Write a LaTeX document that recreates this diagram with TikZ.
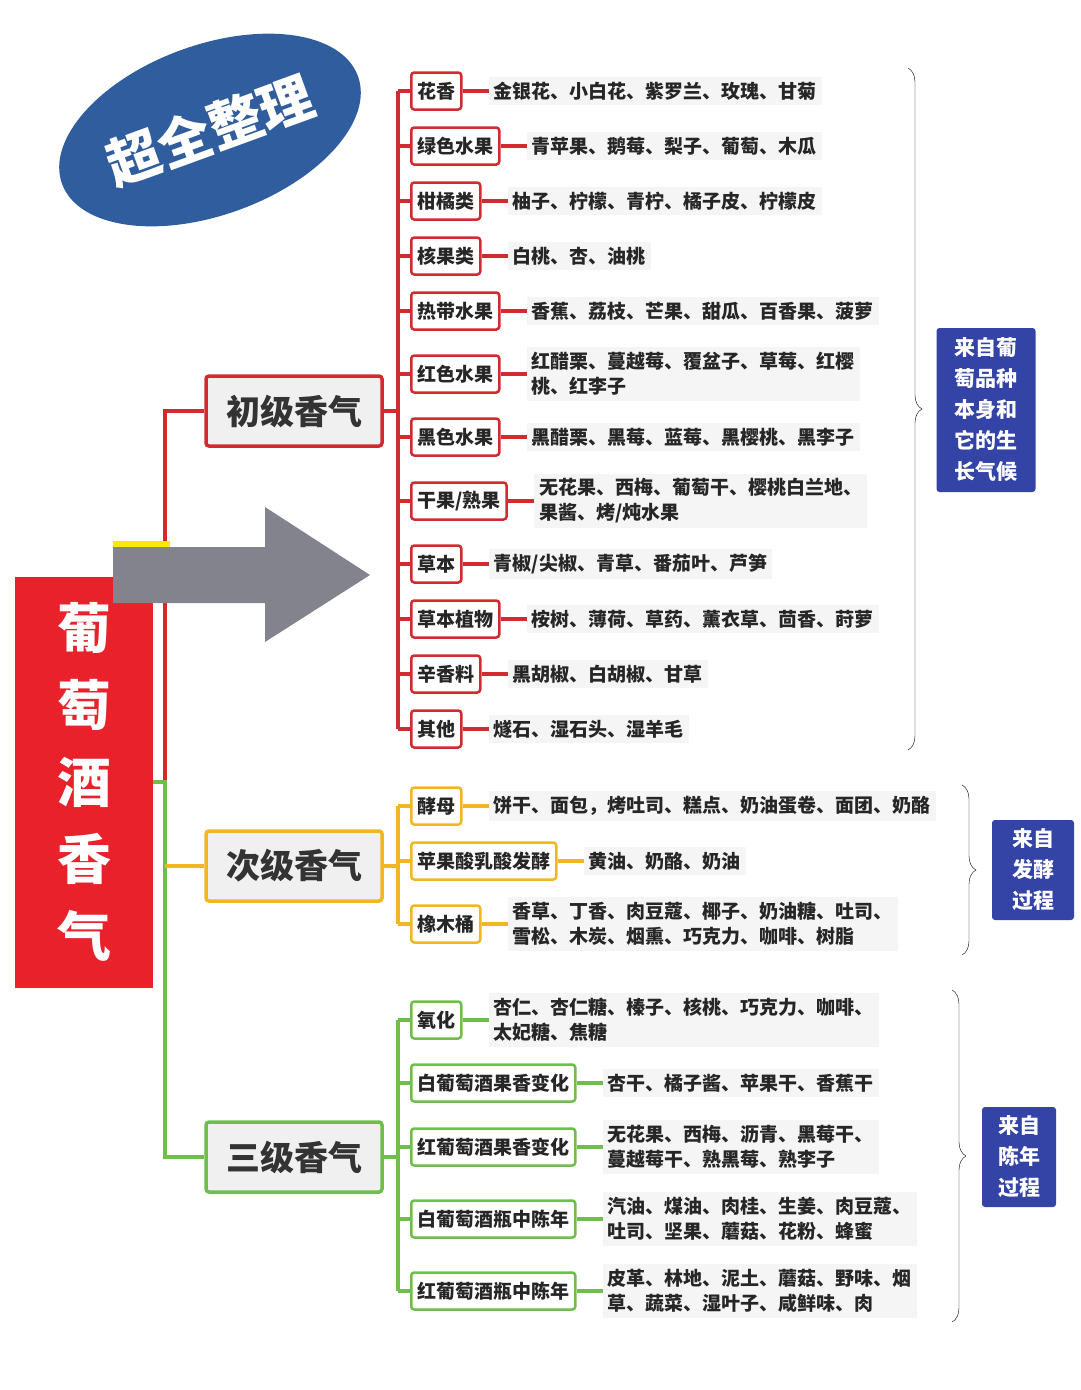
\documentclass[tikz,border=0pt]{standalone}
\usepackage{fontspec}
\setmainfont{Noto Sans CJK SC}
\usetikzlibrary{positioning,decorations.pathreplacing,shapes.geometric}
\definecolor{cred}{HTML}{D12B2F}
\definecolor{cyel}{HTML}{F2B623}
\definecolor{cgrn}{HTML}{6DBE4B}
\definecolor{cblue}{HTML}{3343A6}
\definecolor{cell}{HTML}{2F5D9E}
\definecolor{croot}{HTML}{E8212B}
\definecolor{cgray}{HTML}{82838C}
\tikzset{
  leaf/.style={draw=#1, line width=2.5pt, fill=white, rounded corners=3pt, minimum height=37pt, inner xsep=6pt, anchor=west, font=\bfseries\fontsize{19}{21}\selectfont, text=black!85},
  desc/.style={fill=black!4, inner sep=5pt, align=left, font=\bfseries\fontsize{19}{25}\selectfont, text=black!85},
  link/.style={color=#1, line width=3.2pt},
  level/.style={draw=#1, line width=3.5pt, fill=black!6, rounded corners=3pt, minimum width=176pt, minimum height=70pt, font=\bfseries\fontsize{34}{36}\selectfont, text=black!80},
  source/.style={fill=cblue, rounded corners=3pt, align=center, text=white, font=\bfseries\fontsize{21}{31}\selectfont},
  curly/.style={decorate, decoration={brace, amplitude=14pt}, thin, black}
}
\begin{document}
\begin{tikzpicture}[x=1pt, y=-1pt]
\useasboundingbox (0,0) rectangle (1080,1390);
% title ellipse
\node[ellipse, fill=cell, minimum width=310pt, minimum height=170pt, rotate=20, text=white, font=\bfseries\fontsize{54}{56}\selectfont] (badge) at (210,130) {超全整理};
% root
\node[fill=croot, minimum width=138pt, minimum height=411pt, align=center, text=white, font=\bfseries\fontsize{54}{77}\selectfont] (root) at (84,782) {葡\\萄\\酒\\香\\气};
% level boxes
\node[level=cred] (lvlA) at (294,411) {初级香气};
\node[level=cyel] (lvlB) at (294,866) {次级香气};
\node[level=cgrn] (lvlC) at (294,1157) {三级香气};
\coordinate (tA) at (165,411);
\coordinate (tM) at (165,782);
\coordinate (tB) at (165,866);
\coordinate (tC) at (165,1157);
\draw[link=cred] (lvlA) -- (tA) -- (tM);
\draw[link=cgrn] (root.east |- tM) -- (tM) -- (tC) -- (lvlC);
\draw[link=cyel] (tB) -- (lvlB);
% arrow
\fill[yellow!90!orange] (113,541) rectangle (170,547);
\fill[cgray] (113,547) -- (265,547) -- (265,507) -- (370,575) -- (265,642) -- (265,603) -- (113,603) -- cycle;
% primary aromas
\foreach \y/\k/\d [count=\i] in {
  91/花香/{金银花、小白花、紫罗兰、玫瑰、甘菊},
  146/绿色水果/{青苹果、鹅莓、梨子、葡萄、木瓜},
  201/柑橘类/{柚子、柠檬、青柠、橘子皮、柠檬皮},
  256/核果类/{白桃、杏、油桃},
  311/热带水果/{香蕉、荔枝、芒果、甜瓜、百香果、菠萝},
  374/红色水果/{红醋栗、蔓越莓、覆盆子、草莓、红樱\\桃、红李子},
  437/黑色水果/{黑醋栗、黑莓、蓝莓、黑樱桃、黑李子},
  501/{干果/熟果}/{无花果、西梅、葡萄干、樱桃白兰地、\\果酱、烤/炖水果},
  564/草本/{青椒/尖椒、青草、番茄叶、芦笋},
  619/草本植物/{桉树、薄荷、草药、薰衣草、茴香、莳萝},
  674/辛香料/{黑胡椒、白胡椒、甘草},
  729/其他/{燧石、湿石头、湿羊毛}}
{
  \coordinate (pj\i) at (398,\y);
  \node[leaf=cred] (p\i) at (410,\y) {\k};
  \node[desc, right=26pt of p\i] (pd\i) {\d};
  \draw[link=cred] (pj\i) -- (p\i);
  \draw[link=cred] (p\i) -- (pd\i);
}
\draw[link=cred] (pj1) -- (pj12);
\draw[link=cred] (lvlA.east) -- (pj1 |- lvlA.east);
% secondary aromas
\foreach \y/\k/\d [count=\i] in {
  806/酵母/{饼干、面包，烤吐司、糕点、奶油蛋卷、面团、奶酪},
  861/苹果酸乳酸发酵/{黄油、奶酪、奶油},
  924/橡木桶/{香草、丁香、肉豆蔻、椰子、奶油糖、吐司、\\雪松、木炭、烟熏、巧克力、咖啡、树脂}}
{
  \coordinate (sj\i) at (398,\y);
  \node[leaf=cyel] (s\i) at (410,\y) {\k};
  \node[desc, right=26pt of s\i] (sd\i) {\d};
  \draw[link=cyel] (sj\i) -- (s\i);
  \draw[link=cyel] (s\i) -- (sd\i);
}
\draw[link=cyel] (sj1) -- (sj3);
\draw[link=cyel] (lvlB.east) -- (sj1 |- lvlB.east);
% tertiary aromas
\foreach \y/\k/\d [count=\i] in {
  1020/氧化/{杏仁、杏仁糖、榛子、核桃、巧克力、咖啡、\\太妃糖、焦糖},
  1083/白葡萄酒果香变化/{杏干、橘子酱、苹果干、香蕉干},
  1147/红葡萄酒果香变化/{无花果、西梅、沥青、黑莓干、\\蔓越莓干、熟黑莓、熟李子},
  1219/白葡萄酒瓶中陈年/{汽油、煤油、肉桂、生姜、肉豆蔻、\\吐司、坚果、蘑菇、花粉、蜂蜜},
  1291/红葡萄酒瓶中陈年/{皮革、林地、泥土、蘑菇、野味、烟\\草、蔬菜、湿叶子、咸鲜味、肉}}
{
  \coordinate (tj\i) at (398,\y);
  \node[leaf=cgrn] (t\i) at (410,\y) {\k};
  \node[desc, right=26pt of t\i] (td\i) {\d};
  \draw[link=cgrn] (tj\i) -- (t\i);
  \draw[link=cgrn] (t\i) -- (td\i);
}
\draw[link=cgrn] (tj1) -- (tj5);
\draw[link=cgrn] (lvlC.east) -- (tj1 |- lvlC.east);
% sources
\node[source, minimum width=99pt, minimum height=164pt] (srcA) at (986,410) {来自葡\\萄品种\\本身和\\它的生\\长气候};
\node[source, minimum width=82pt, minimum height=100pt] (srcB) at (1033,870) {来自\\发酵\\过程};
\node[source, minimum width=74pt, minimum height=100pt] (srcC) at (1019,1157) {来自\\陈年\\过程};
\draw[curly] (908,68) -- (908,750);
\draw[curly] (962,785) -- (962,955);
\draw[curly] (952,990) -- (952,1322);
\end{tikzpicture}
\end{document}
